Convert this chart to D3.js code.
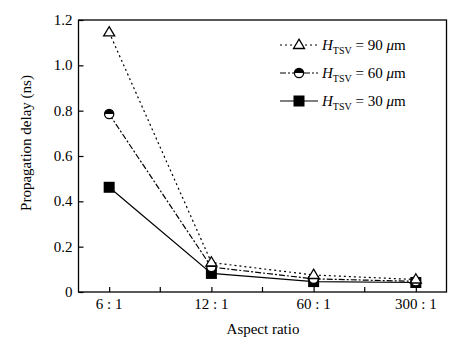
<!DOCTYPE html>
<html><head><meta charset="utf-8">
<script src="https://cdn.jsdelivr.net/npm/d3@7"></script>
<style>body{margin:0;background:#fff}svg text{font-family:"Liberation Serif","Times New Roman",serif;fill:#000}</style>
</head><body><svg id="c" width="464" height="346"></svg>
<script>
const categories = ["6 : 1", "12 : 1", "60 : 1", "300 : 1"];
const yTicks = [0, 0.2, 0.4, 0.6, 0.8, 1.0, 1.2];
const yTickLabels = ["0", "0.2", "0.4", "0.6", "0.8", "1.0", "1.2"];
const h90 = [1.145, 0.13, 0.075, 0.055];
const h60 = [0.785, 0.11, 0.058, 0.047];
const h30 = [0.462, 0.082, 0.046, 0.042];
const seriesNames = ["90", "60", "30"];

const svg = d3.select("#c");
const L = 78.5, R = 446.5, T = 20, B = 292;
const x = d3.scalePoint().domain(categories).range([L, R]).padding(0.3);
const y = d3.scaleLinear().domain([0, 1.2]).range([B, T]);

svg.append("rect").attr("x", L).attr("y", T).attr("width", R - L).attr("height", B - T)
  .attr("fill", "none").attr("stroke", "#000").attr("stroke-width", 1.3);

const yAx = svg.append("g").attr("transform", `translate(${L},0)`)
  .call(d3.axisRight(y).tickValues(yTicks).tickSize(5).tickFormat(""));
yAx.select(".domain").remove();
yAx.selectAll("line").attr("stroke", "#000").attr("stroke-width", 1.2);
svg.selectAll(".ylab").data(yTicks).enter().append("text")
  .attr("x", L - 6).attr("y", d => y(d) + 5).attr("text-anchor", "end")
  .attr("font-size", 15).text((d, i) => yTickLabels[i]);

const xAx = svg.append("g").attr("transform", `translate(0,${B})`)
  .call(d3.axisTop(x).tickSize(5).tickFormat(""));
xAx.select(".domain").remove();
xAx.selectAll("line").attr("stroke", "#000").attr("stroke-width", 1.2);
const mids = categories.slice(0, -1).map((c, i) => (x(c) + x(categories[i + 1])) / 2);
svg.selectAll(".minor").data(mids).enter().append("line")
  .attr("x1", d => d).attr("x2", d => d).attr("y1", B).attr("y2", B - 5)
  .attr("stroke", "#000").attr("stroke-width", 1.2);
svg.selectAll(".xlab").data(categories).enter().append("text")
  .attr("x", d => x(d)).attr("y", 309).attr("text-anchor", "middle")
  .attr("font-size", 15).text(d => d);

svg.append("text").attr("x", 263).attr("y", 334).attr("text-anchor", "middle")
  .attr("font-size", 15).text("Aspect ratio");
svg.append("text").attr("transform", "translate(31,143) rotate(-90)")
  .attr("text-anchor", "middle").attr("font-size", 15).text("Propagation delay (ns)");

const line = d3.line().x((d, i) => x(categories[i])).y(d => y(d));
const styles = [
  {data: h90, dash: "2,3", marker: "tri"},
  {data: h60, dash: "6,2,2,2", marker: "half"},
  {data: h30, dash: null, marker: "sq"}
];

function drawMarker(g, type, cx, cy) {
  if (type === "tri") {
    const s = 5.8;
    g.append("path").attr("d", `M${cx},${cy - s}L${cx + s * 0.95},${cy + s * 0.6}L${cx - s * 0.95},${cy + s * 0.6}Z`)
      .attr("fill", "#fff").attr("stroke", "#000").attr("stroke-width", 1.3);
  } else if (type === "half") {
    const r = 4.6;
    g.append("circle").attr("cx", cx).attr("cy", cy).attr("r", r)
      .attr("fill", "#fff").attr("stroke", "#000").attr("stroke-width", 1.3);
    g.append("path").attr("d", `M${cx - r},${cy}A${r},${r} 0 0 1 ${cx + r},${cy}Z`).attr("fill", "#000");
  } else {
    const s = 11;
    g.append("rect").attr("x", cx - s / 2).attr("y", cy - s / 2).attr("width", s).attr("height", s).attr("fill", "#000");
  }
}

[2, 1, 0].forEach(k => {
  const st = styles[k];
  svg.append("path").datum(st.data).attr("d", line).attr("fill", "none")
    .attr("stroke", "#000").attr("stroke-width", 1.2).attr("stroke-dasharray", st.dash);
});
[2, 1, 0].forEach(k => {
  const st = styles[k];
  const g = svg.append("g");
  st.data.forEach((v, i) => drawMarker(g, st.marker, x(categories[i]), y(v)));
});

const legY = [45, 73, 101];
styles.forEach((st, k) => {
  const g = svg.append("g");
  g.append("line").attr("x1", 280).attr("x2", 318).attr("y1", legY[k]).attr("y2", legY[k])
    .attr("stroke", "#000").attr("stroke-width", 1.2).attr("stroke-dasharray", st.dash);
  drawMarker(g, st.marker, 299, legY[k]);
  const t = g.append("text").attr("x", 322).attr("y", legY[k] + 5).attr("font-size", 15);
  t.append("tspan").attr("font-style", "italic").text("H");
  t.append("tspan").attr("font-size", 10).attr("dy", 4).text("TSV");
  t.append("tspan").attr("dy", -4).text(" = " + seriesNames[k] + " ");
  t.append("tspan").attr("font-style", "italic").text("μ");
  t.append("tspan").text("m");
});
</script></body></html>
